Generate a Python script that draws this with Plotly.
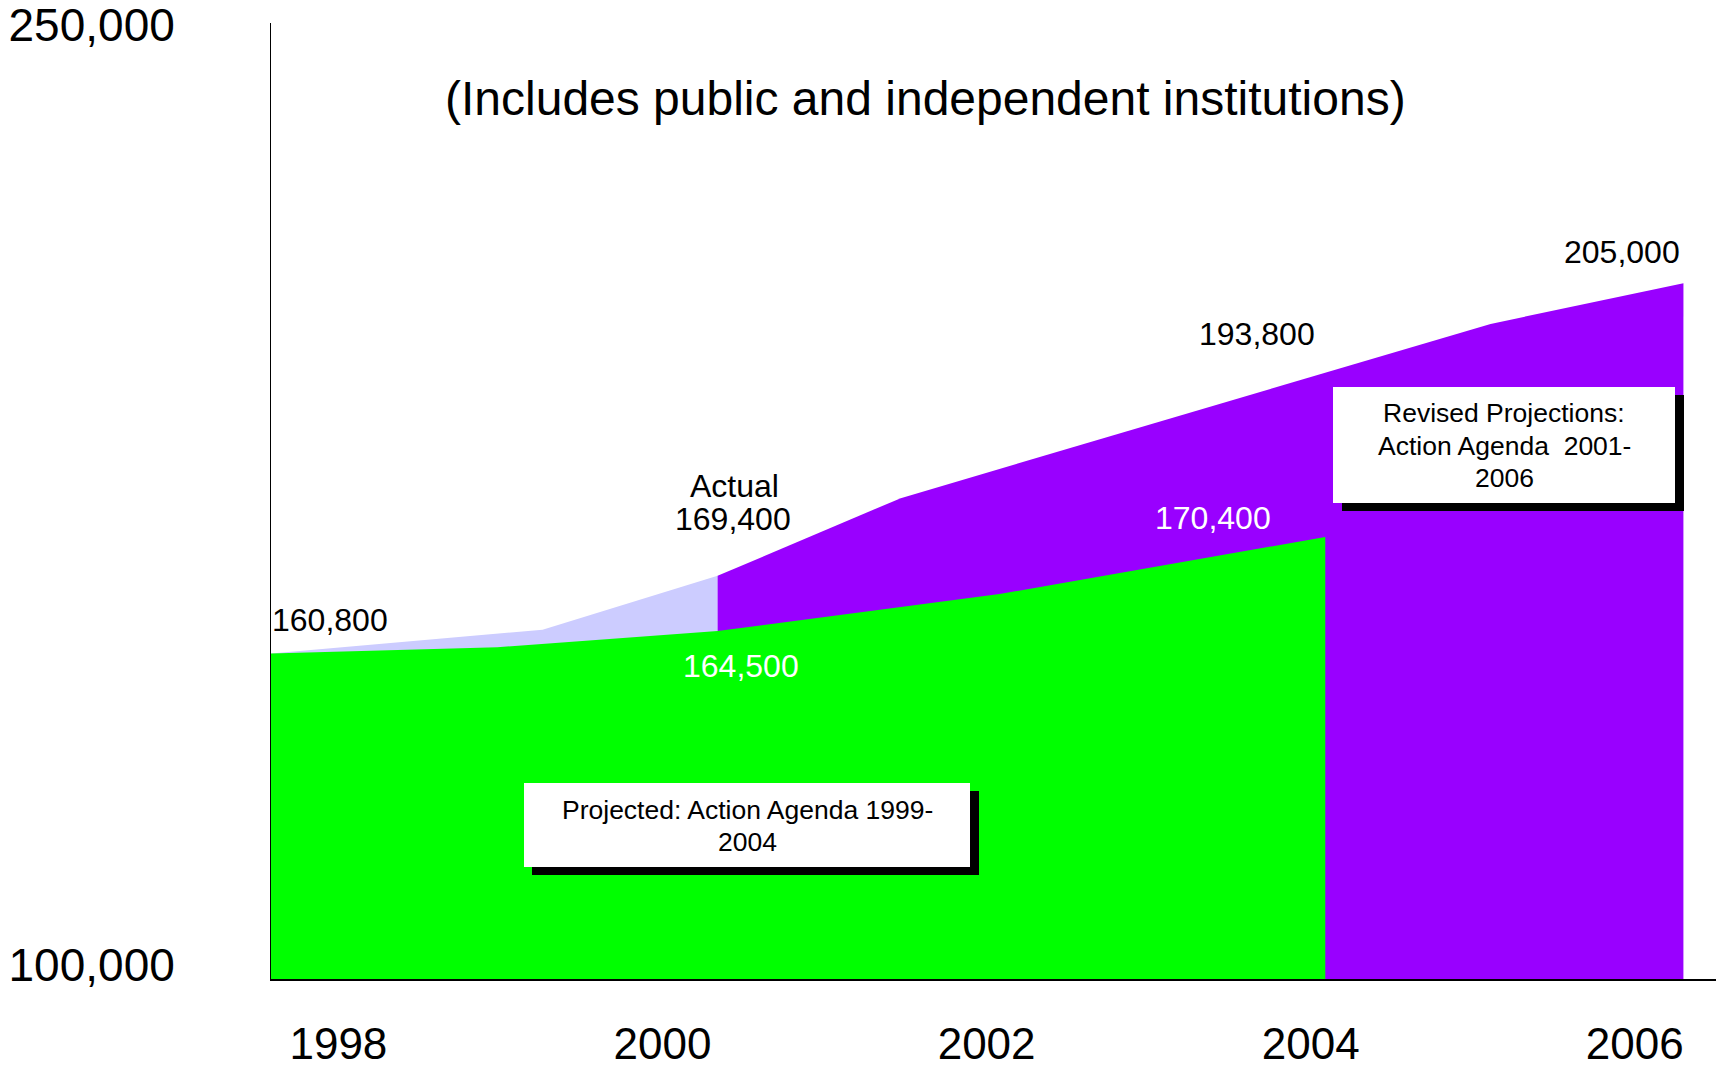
import plotly.graph_objects as go

# ---- data ----
green_years = [1997.58, 1998.98, 2000.34, 2002.08, 2004.09]
green_vals = [149700, 150700, 153300, 159200, 168300]

actual_years = [1997.58, 1999.26, 2000.34]
actual_vals = [149700, 153500, 162100]

revised_years = [2000.34, 2001.47, 2005.11, 2006.30]
revised_vals = [162100, 174500, 202300, 208800]

year_ticks = [1998, 2000, 2002, 2004, 2006]
year_labels = ["1998", "2000", "2002", "2004", "2006"]
y_ticks = [100000, 250000]
y_labels = ["100,000", "250,000"]
y_range = [97766, 250319]

W, H = 1716, 1071
L, R, T, B = 271, 0, 23, 92
PW, PH = W - L - R, H - T - B
FONT = "Liberation Sans, Arial, sans-serif"


def px_x(px):
    return (px - L) / PW


def px_y(py):
    return (H - B - py) / PH


fig = go.Figure()
fig.add_trace(go.Scatter(x=actual_years, y=actual_vals, mode="none", fill="tozeroy",
                         fillcolor="#CCCCFF", hoverinfo="skip"))
fig.add_trace(go.Scatter(x=revised_years, y=revised_vals, mode="none", fill="tozeroy",
                         fillcolor="#9900FF", hoverinfo="skip"))
fig.add_trace(go.Scatter(x=green_years, y=green_vals, mode="none", fill="tozeroy",
                         fillcolor="#00FF00", hoverinfo="skip"))

shapes = []
# Projected box: shadow + white
shapes.append(dict(type="rect", xref="paper", yref="paper", layer="above",
                   x0=px_x(532), x1=px_x(979), y0=px_y(875), y1=px_y(791),
                   fillcolor="black", line=dict(width=0)))
shapes.append(dict(type="rect", xref="paper", yref="paper", layer="above",
                   x0=px_x(524), x1=px_x(970), y0=px_y(867), y1=px_y(783),
                   fillcolor="white", line=dict(width=0)))
# Revised box: shadow + white
shapes.append(dict(type="rect", xref="paper", yref="paper", layer="above",
                   x0=px_x(1342), x1=px_x(1684), y0=px_y(511), y1=px_y(395),
                   fillcolor="black", line=dict(width=0)))
shapes.append(dict(type="rect", xref="paper", yref="paper", layer="above",
                   x0=px_x(1333), x1=px_x(1675), y0=px_y(503), y1=px_y(387),
                   fillcolor="white", line=dict(width=0)))


def ann(text, x, y, size=32, color="black", xanchor="center"):
    return dict(text=text, x=px_x(x), y=px_y(y), xref="paper", yref="paper",
                showarrow=False, xanchor=xanchor, yanchor="middle",
                font=dict(family=FONT, size=size, color=color))


annotations = [
    ann("(Includes public and independent institutions)", 925, 98, size=48),
    ann("160,800", 270, 620, xanchor="left"),
    ann("Actual", 734, 486),
    ann("169,400", 733, 519),
    ann("164,500", 741, 666, color="white"),
    ann("170,400", 1213, 518, color="white"),
    ann("193,800", 1257, 334),
    ann("205,000", 1622, 252),
    ann("Projected: Action Agenda 1999-", 747, 810, size=26.5),
    ann("2004", 747, 842, size=26.5),
    ann("Revised Projections:", 1504, 413, size=26.5),
    ann("Action Agenda  2001-", 1504, 446, size=26.5),
    ann("2006", 1504, 478, size=26.5),
]

x0 = 1998 + (L - 338.4) / 162.05
x1 = 1998 + (W - R - 338.4) / 162.05

fig.update_layout(
    template="none",
    width=W, height=H,
    margin=dict(l=L, r=R, t=T, b=B, pad=0, autoexpand=False),
    paper_bgcolor="white", plot_bgcolor="white",
    showlegend=False,
    shapes=shapes,
    annotations=annotations,
    font=dict(family=FONT, color="black"),
    xaxis=dict(range=[x0, x1], tickvals=year_ticks, ticktext=year_labels,
               showgrid=False, zeroline=False, showline=True, linecolor="black",
               linewidth=2, ticks="", tickfont=dict(size=44, family=FONT, color="black"),
               ticklabelstandoff=25, ticklabeloverflow="allow",
               automargin=False, fixedrange=True),
    yaxis=dict(range=y_range, tickvals=y_ticks, ticktext=y_labels,
               showgrid=False, zeroline=False, showline=True, linecolor="black",
               linewidth=1, ticks="", tickfont=dict(size=46, family=FONT, color="black"),
               ticklabelstandoff=86, ticklabeloverflow="allow",
               automargin=False, fixedrange=True),
)

fig.write_html("out.html", config={"displayModeBar": False})
